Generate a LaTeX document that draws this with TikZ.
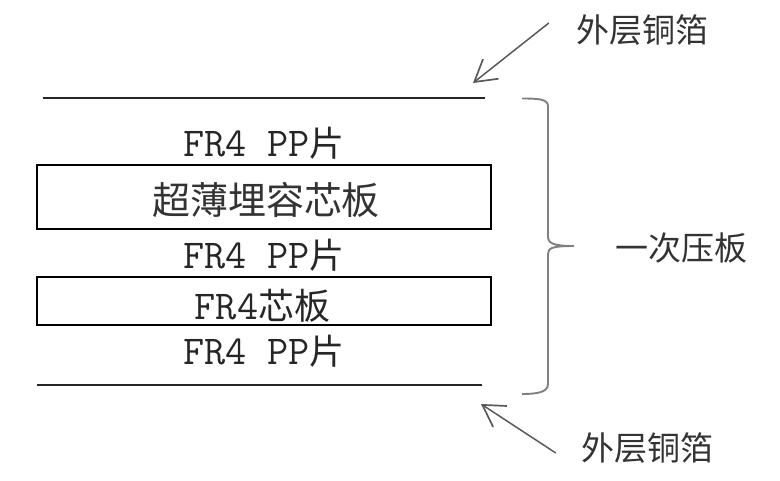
\documentclass[tikz,border=0pt]{standalone}
\usepackage{fontspec}
\newfontfamily\cjk{Noto Sans CJK SC}
\usetikzlibrary{positioning,arrows.meta}

\begin{document}
\begin{tikzpicture}[x=1pt,y=-1pt,
layerbox/.style={draw,line width=1.5pt,rectangle,minimum width=454pt,inner sep=0pt},
layertext/.style={inner sep=0pt,font=\ttfamily\fontsize{41}{41}\selectfont,text=black!85},
cjktext/.style={inner sep=0pt,font=\cjk\fontsize{33}{33}\selectfont,text=black!80},
foil/.style={line width=1.7pt,black!85},
callout/.style={line width=1.5pt,black!65,-{Straight Barb[length=21pt,width=25pt,line width=1.7pt]}},
bracket/.style={line width=1.9pt,black!50}]
\useasboundingbox (0,0) rectangle (780,480);
% copper foils
\coordinate (topfoilL) at (43,98);
\coordinate (topfoilR) at (485,98);
\coordinate (botfoilL) at (37,385);
\coordinate (botfoilR) at (482,385);
\draw [foil] (topfoilL) -- (topfoilR);
\draw [foil] (botfoilL) -- (botfoilR);
% cores
\node (thincore) [layerbox,minimum height=64pt] at (264,197) {};
\node (thintext) [cjktext,font=\cjk\fontsize{38}{38}\selectfont] at (266,200) {超薄埋容芯板};
\node (fourcore) [layerbox,minimum height=48pt] at (264,301) {};
\node (fourtext) [layertext] at (262.5,306) {FR4{\cjk\fontsize{36}{36}\selectfont 芯板}};
% prepreg
\node (prepregA) [layertext,above=5pt of thincore] {FR4 PP{\cjk\fontsize{35}{35}\selectfont 片}};
\node (prepregB) [layertext,below=9pt of thincore] {FR4 PP{\cjk\fontsize{35}{35}\selectfont 片}};
\node (prepregC) [layertext,below=9pt of fourcore] {FR4 PP{\cjk\fontsize{35}{35}\selectfont 片}};
% labels on the right
\node (toplabel) [cjktext] at (642,30) {外层铜箔};
\node (botlabel) [cjktext] at (647,448) {外层铜箔};
\node (presslabel) [cjktext] at (681,248) {一次压板};
\coordinate (toptip) at (473,83);
\coordinate (bottip) at (481,404);
\draw [callout] ([xshift=-27pt,yshift=7pt]toplabel.west) -- (toptip);
\draw [callout] ([xshift=-25pt,yshift=-5pt]botlabel.west) -- (bottip);
% bracket
\coordinate (brtop) at (522,98.5);
\coordinate (brtip) at (574,246);
\coordinate (brbot) at (522,394);
\draw [bracket] (brtop) .. controls (538,98.5) and (548,99) .. (548,106)
    -- (548,236) .. controls (548,243) and (552,246) .. (brtip)
    .. controls (552,246) and (548,248) .. (548,254)
    -- (548,384) .. controls (548,392) and (538,394) .. (brbot);
\end{tikzpicture}
\end{document}
